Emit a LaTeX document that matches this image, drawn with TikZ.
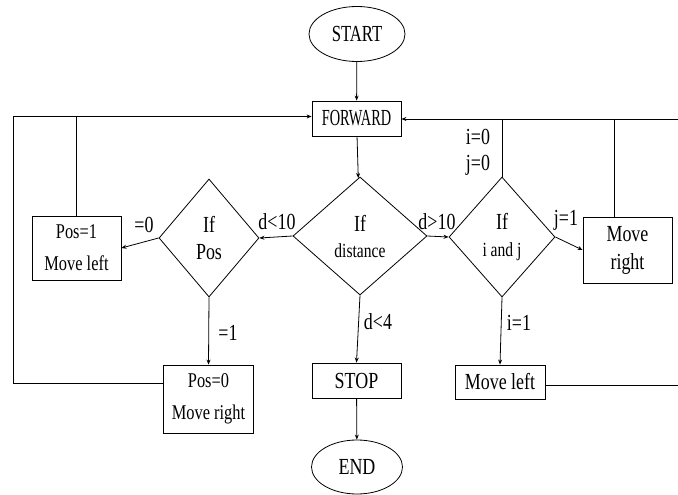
\documentclass[tikz,border=0pt]{standalone}
\usepackage{graphicx}
\usepackage{fontspec}
\setmainfont[FakeStretch=0.78]{Liberation Serif}
\usepackage{tikz}
\usetikzlibrary{shapes.geometric,arrows.meta}

\tikzset{
  base/.style={draw,line width=0.8pt,inner sep=0pt,align=center,font=\fontsize{23}{28}\selectfont},
  term/.style={base,ellipse},
  proc/.style={base,rectangle},
  test/.style={base,diamond},
  flow/.style={line width=0.8pt,-{Stealth[length=5pt,width=4pt]}},
  link/.style={line width=0.8pt},
  lab/.style={inner sep=0pt,font=\fontsize{23}{25}\selectfont}
}

\begin{document}
\begin{tikzpicture}[x=1pt,y=-1pt]
\useasboundingbox (0,0) rectangle (678,495);
% terminals
\node[term,minimum width=96,minimum height=55] (start) at (357,34) {\scalebox{0.93}[1]{START}};
\node[term,minimum width=91,minimum height=54] (end) at (357,467) {END};
% boxes
\node[proc,minimum width=89,minimum height=35] (fwd) at (356.5,118.5) {\scalebox{0.8}[1]{FORWARD}};
\node[proc,minimum width=89,minimum height=35] (stop) at (356.5,380.5) {STOP};
\node[proc,minimum width=89,minimum height=64,font=\fontsize{21}{32}\selectfont] (posone) at (76.5,248) {Pos=1\\Move left};
\node[proc,minimum width=90,minimum height=68,font=\fontsize{21}{32}\selectfont] (poszero) at (208.5,399) {Pos=0\\Move right};
\node[proc,minimum width=90,minimum height=34] (mleft) at (500,382) {Move left};
\node[proc,minimum width=89,minimum height=66] (mright) at (627.5,250) {Move\\right};
% tests
\node[test,minimum width=134,minimum height=118] (dist) at (360,236) {If\\[-2pt]{\fontsize{20}{20}\selectfont distance}};
\node[test,minimum width=100,minimum height=118] (ifpos) at (209,238) {If\\[-1pt]Pos};
\node[test,minimum width=106,minimum height=120] (ifij) at (502,237) {If\\[-1pt]{\fontsize{20}{20}\selectfont i and j}};
% main flow
\draw[flow] (start) -- (fwd);
\draw[flow] (fwd) -- (dist);
\draw[flow] (dist.west) -- (ifpos.east);
\draw[flow] (dist.east) -- (ifij.west);
\draw[flow] (dist.south) -- (stop.north);
\draw[flow] (stop) -- (end);
\draw[flow] (ifpos.west) -- (posone.east);
\draw[flow] (ifpos.south) -- (poszero.north);
\draw[flow] (ifij.east) -- (mright.west);
\draw[flow] (ifij.south) -- (mleft.north);
% loops back to FORWARD
\coordinate (lefttop) at (13,116.5);
\coordinate (leftbot) at (13,383);
\coordinate (righttop) at (684,119);
\coordinate (rightbot) at (684,385);
\draw[flow] (poszero.west |- leftbot) -- (leftbot) -- (lefttop) -- (fwd.west |- lefttop);
\draw[link] (posone.north) -- (posone.north |- lefttop);
\draw[flow] (mleft.east |- rightbot) -- (rightbot) -- (righttop) -- (fwd.east |- righttop);
\draw[link] (ifij.north) -- (ifij.north |- righttop);
\draw[link] ([xshift=-13.5pt]mright.north) -- ([xshift=-13.5pt]mright.north |- righttop);
% labels
\node[lab] (ldten) at (277,222) {d<10};
\node[lab] (lgten) at (437,222) {d>10};
\node[lab] (lfour) at (378,322) {d<4};
\node[lab] (lzero) at (144,225) {=0};
\node[lab] (lone) at (228,333) {=1};
\node[lab] (lione) at (519,323) {i=1};
\node[lab] (lizero) at (478,137) {i=0};
\node[lab] (ljzero) at (478,165) {j=0};
\node[lab] (ljone) at (566,220) {j=1};
\end{tikzpicture}
\end{document}
